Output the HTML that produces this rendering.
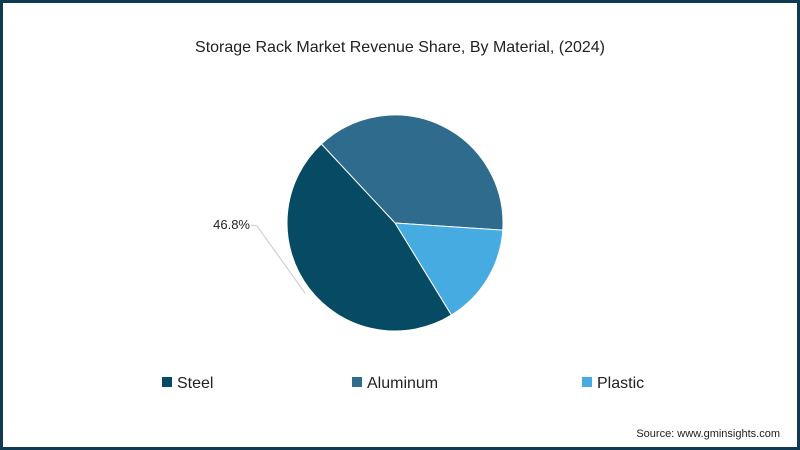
<!DOCTYPE html>
<html><head><meta charset="utf-8"><style>
body{margin:0;width:800px;height:450px;overflow:hidden;background:#fff;font-family:"Liberation Sans",sans-serif}
#frame{position:absolute;left:0;top:0;width:794px;height:444px;border:3px solid #0f3a52;background:#fff}
</style></head><body>
<div id="frame"></div>
<svg width="800" height="450" style="position:absolute;left:0;top:0">
<text x="400" y="52" text-anchor="middle" font-size="16" fill="#222">Storage Rack Market Revenue Share, By Material, (2024)</text>
<g id="pie"></g>
<polyline points="251,225 257,226 305,293" fill="none" stroke="#c8c8c8" stroke-width="1"/>
<text x="250" y="229" text-anchor="end" font-size="13" fill="#222">46.8%</text>
<g id="legend"></g>
<text x="780" y="437" text-anchor="end" font-size="11" fill="#222">Source: www.gminsights.com</text>
</svg>
<script>
const categories=["Aluminum","Plastic","Steel"];
const values=[38.0,15.2,46.8];
const colors=["#2e6b8c","#45abe0","#074a63"];
const legendOrder=["Steel","Aluminum","Plastic"];
const ns="http://www.w3.org/2000/svg";
const cx=395,cy=223,r=108,start=-43;
const total=values.reduce((a,b)=>a+b,0);
let a=start;
const pie=document.getElementById('pie');
function pt(deg){const t=deg*Math.PI/180;return [cx+r*Math.sin(t),cy-r*Math.cos(t)];}
values.forEach((v,i)=>{
  const sweep=v/total*360;const p1=pt(a),p2=pt(a+sweep);
  const p=document.createElementNS(ns,'path');
  p.setAttribute('d',`M${cx},${cy}L${p1[0]},${p1[1]}A${r},${r} 0 ${sweep>180?1:0} 1 ${p2[0]},${p2[1]}Z`);
  p.setAttribute('fill',colors[i]);p.setAttribute('stroke','#fff');p.setAttribute('stroke-width','1');
  
  
  pie.appendChild(p);a+=sweep;
});
const lg=document.getElementById('legend');
const lx=[162,352,582];
legendOrder.forEach((c,i)=>{
  const g=document.createElementNS(ns,'g');
  
  
  const rc=document.createElementNS(ns,'rect');
  rc.setAttribute('x',lx[i]);rc.setAttribute('y',377);rc.setAttribute('width',10);rc.setAttribute('height',10);
  rc.setAttribute('fill',colors[categories.indexOf(c)]);
  const t=document.createElementNS(ns,'text');
  t.setAttribute('x',lx[i]+15);t.setAttribute('y',388);t.setAttribute('font-size','16');t.setAttribute('fill','#222');
  t.textContent=c;
  g.appendChild(rc);g.appendChild(t);lg.appendChild(g);
});
</script>
</body></html>
